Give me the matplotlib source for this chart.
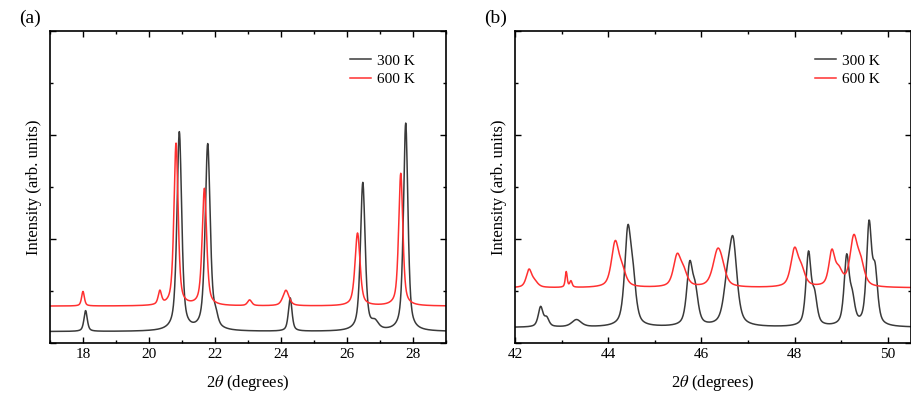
import numpy as np
import matplotlib
matplotlib.use("Agg")
import matplotlib.pyplot as plt
from matplotlib.ticker import MultipleLocator, NullFormatter

plt.rcParams['font.family'] = ['Liberation Serif', 'DejaVu Serif']
plt.rcParams['mathtext.fontset'] = 'stix'

# ====== peak lists (centre, net height, FWHM) ======
# panel (a): 17-29 deg
a_300_base = 0.22
a_300_pos = [18.08, 20.92, 21.78, 22.02, 24.28, 26.48, 26.85, 27.78]
a_300_amp = [0.40, 3.82, 3.58, 0.20, 0.64, 2.85, 0.14, 4.00]
a_300_fwhm = [0.12, 0.17, 0.18, 0.16, 0.13, 0.17, 0.25, 0.16]

a_600_base = 0.71
a_600_pos = [18.00, 20.33, 20.82, 21.68, 23.05, 24.15, 26.32, 27.63]
a_600_amp = [0.28, 0.26, 3.12, 2.25, 0.11, 0.30, 1.40, 2.55]
a_600_fwhm = [0.10, 0.12, 0.15, 0.16, 0.15, 0.22, 0.18, 0.15]

# panel (b): 42-50.5 deg
b_300_base = 0.30
b_300_pos = [42.55, 42.68, 43.32, 44.42, 44.53, 45.75, 45.87, 46.55, 46.68,
             48.30, 48.43, 49.12, 49.24, 49.60, 49.73]
b_300_amp = [0.38, 0.16, 0.14, 1.72, 0.75, 1.12, 0.58, 0.60, 1.55,
             1.38, 0.52, 1.30, 0.45, 1.90, 0.95]
b_300_fwhm = [0.12, 0.12, 0.24, 0.16, 0.16, 0.15, 0.15, 0.19, 0.20,
              0.13, 0.13, 0.13, 0.13, 0.13, 0.13]

b_600_base = 1.06
b_600_pos = [42.30, 42.42, 43.10, 43.20, 44.15, 44.30, 45.48, 45.62,
             46.35, 46.45, 48.00, 48.15, 48.80, 48.95, 49.27, 49.42]
b_600_amp = [0.33, 0.10, 0.30, 0.12, 0.84, 0.27, 0.58, 0.25,
             0.68, 0.15, 0.70, 0.28, 0.64, 0.28, 0.90, 0.40]
b_600_fwhm = [0.14, 0.17, 0.05, 0.06, 0.19, 0.19, 0.19, 0.19,
              0.24, 0.19, 0.19, 0.19, 0.15, 0.19, 0.19, 0.19]

RED = '#ff3030'
GREY = '#3a3a3a'


def pattern(x, base, pos, amp, fwhm, eta=0.6):
    # pseudo-Voigt peaks on a flat background
    y = np.full_like(x, base)
    for c, h, w in zip(pos, amp, fwhm):
        g = np.exp(-4 * np.log(2) * ((x - c) / w) ** 2)
        l = 1.0 / (1.0 + 4 * ((x - c) / w) ** 2)
        y += h * (eta * l + (1 - eta) * g)
    return y


def style_axes(ax, xlim, label):
    ax.set_xlim(*xlim)
    ax.set_ylim(0, 6)
    ax.xaxis.set_major_locator(MultipleLocator(2))
    ax.xaxis.set_minor_locator(MultipleLocator(1))
    ax.yaxis.set_major_locator(MultipleLocator(2))
    ax.yaxis.set_minor_locator(MultipleLocator(1))
    ax.yaxis.set_major_formatter(NullFormatter())
    ax.tick_params(which='both', direction='in', top=True, right=True,
                   labelsize=11, width=1.0)
    ax.tick_params(which='major', length=4)
    ax.tick_params(which='minor', length=2.5)
    for s in ax.spines.values():
        s.set_linewidth(1.2)
    ax.set_xlabel(r'2$\it{\theta}$ (degrees)', fontsize=12, labelpad=9)
    ax.set_ylabel('Intensity (arb. units)', fontsize=12, labelpad=2)
    ax.legend(loc='upper right', frameon=False, fontsize=11,
              handlelength=1.4, handletextpad=0.4, labelspacing=0.3,
              bbox_to_anchor=(0.957, 0.97))
    ax.text(-0.05, 1.04, label, transform=ax.transAxes, fontsize=14,
            ha='center', va='center')


fig = plt.figure(figsize=(9.12, 3.94), dpi=100)
ax1 = fig.add_axes([0.0548, 0.1294, 0.4342, 0.7919])
ax2 = fig.add_axes([0.5647, 0.1294, 0.4342, 0.7919])

xa = np.arange(17.0, 29.0, 0.01)
ax1.plot(xa, pattern(xa, a_300_base, a_300_pos, a_300_amp, a_300_fwhm),
         color=GREY, lw=1.1, label='300 K')
ax1.plot(xa, pattern(xa, a_600_base, a_600_pos, a_600_amp, a_600_fwhm),
         color=RED, lw=1.1, label='600 K')
style_axes(ax1, (17, 29), '(a)')

xb = np.arange(42.0, 50.5, 0.01)
ax2.plot(xb, pattern(xb, b_300_base, b_300_pos, b_300_amp, b_300_fwhm),
         color=GREY, lw=1.1, label='300 K')
ax2.plot(xb, pattern(xb, b_600_base, b_600_pos, b_600_amp, b_600_fwhm),
         color=RED, lw=1.1, label='600 K')
style_axes(ax2, (42, 50.5), '(b)')

fig.savefig('out.png', dpi=100)
